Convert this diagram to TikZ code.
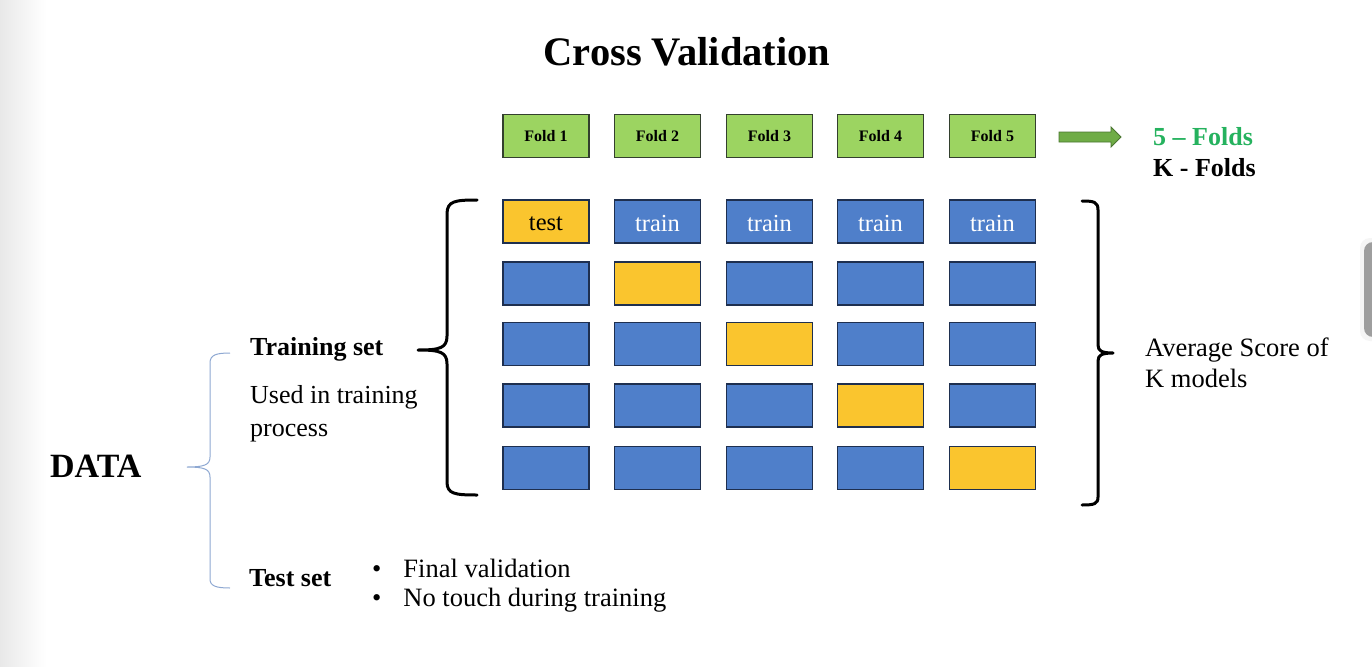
\documentclass[tikz,border=0pt]{standalone}
\usepackage{fontspec}
\setmainfont{Liberation Serif}
\definecolor{foldgreen}{HTML}{9CD461}
\definecolor{folddraw}{HTML}{33402E}
\definecolor{cellblue}{HTML}{4F7FCA}
\definecolor{cellgold}{HTML}{FAC52E}
\definecolor{celldraw}{HTML}{1E2F4F}
\definecolor{arrowgreen}{HTML}{6FAC46}
\definecolor{arrowdraw}{HTML}{4A7530}
\definecolor{kgreen}{HTML}{25B25E}
\definecolor{thinbrace}{HTML}{8EA8D2}
\tikzset{
  foldbox/.style={draw=folddraw, line width=1.2pt, fill=foldgreen,
    minimum width=86pt, minimum height=43pt, inner sep=0pt,
    font=\bfseries\fontsize{16}{18}\selectfont},
  cell/.style={draw=celldraw, line width=1.2pt, fill=cellblue,
    minimum width=86pt, minimum height=43pt, inner sep=0pt,
    font=\fontsize{24}{26}\selectfont},
  testcell/.style={cell, fill=cellgold},
  label/.style={inner sep=0pt, anchor=west, align=left},
  bigbrace/.style={line width=3pt, line cap=round, line join=round},
}
\begin{document}
\begin{tikzpicture}[x=1pt,y=-1pt]
\useasboundingbox (0,0) rectangle (1372,666);
\fill[white] (0,0) rectangle (1372,666);
% soft grey edge on the left
\shade[left color=black!9, right color=white] (0,0) rectangle (46,666);
% grey handle on the right edge
\fill[black!4, rounded corners=10pt] (1360,238) rectangle (1385,341);
\fill[black!38, rounded corners=9pt] (1364,242) rectangle (1385,337);

% title
\node[inner sep=0pt, font=\bfseries\fontsize{40.5}{40}\selectfont] (title) at (687,52) {Cross Validation};

% fold headers
\foreach \i/\x in {1/546,2/657.5,3/769.5,4/880.5,5/992.5}
  \node[foldbox] (f\i) at (\x,136) {Fold \i};

% fold arrow and labels
\coordinate (arrtail) at (1059,137);
\node[label, text=kgreen, font=\bfseries\fontsize{26}{26}\selectfont] (five) at (1153,137) {5 -- Folds};
\node[label, font=\bfseries\fontsize{26}{26}\selectfont] (kf) at (1153,168) {K - Folds};
\draw[draw=arrowdraw, fill=arrowgreen, line width=0.8pt, line join=miter]
  ([yshift=5pt]arrtail) -- ++(52,0) -- ++(0,-5) -- ++(10,10) -- ++(-10,10)
  -- ++(0,-5) -- ++(-52,0) -- cycle;

% cross-validation grid
\foreach \r/\y in {1/221.5,2/283.5,3/344,4/405.5,5/468}
  \foreach \c/\x in {1/546,2/657.5,3/769.5,4/880.5,5/992.5}
  {
    \ifnum\r=\c
      \node[testcell] (c\r\c) at (\x,\y) {};
    \else
      \node[cell] (c\r\c) at (\x,\y) {};
    \fi
  }
\node[inner sep=0pt, font=\fontsize{24.5}{26}\selectfont] at ([yshift=-2pt]c11) {test};
\foreach \c in {2,3,4,5}
  \node[inner sep=0pt, text=white, font=\fontsize{24.5}{26}\selectfont] at ([yshift=-2pt]c1\c) {train};

% braces around the grid
\draw[bigbrace] (477,200) .. controls (455,200) and (447,201) .. (447,214)
  -- (447,336) .. controls (447,348) and (440,350) .. (418,350)
  .. controls (440,350) and (447,352) .. (447,364)
  -- (447,482) .. controls (447,494) and (455,495) .. (477,495);
\draw[bigbrace] (1082,201) .. controls (1094,201) and (1098,202) .. (1098,210)
  -- (1098,345) .. controls (1098,351) and (1102,353) .. (1113,353)
  .. controls (1102,353) and (1098,355) .. (1098,361)
  -- (1098,497) .. controls (1098,504) and (1094,505) .. (1082,505);

% data split
\draw[thinbrace, line width=1pt] (230,353) .. controls (216,353) and (210,355) .. (210,363)
  -- (210,457) .. controls (210,465) and (204,467) .. (187,467)
  .. controls (204,467) and (210,469) .. (210,477)
  -- (210,579) .. controls (210,586) and (216,588) .. (230,588);
\node[label, font=\bfseries\fontsize{34}{34}\selectfont] (data) at (50,466) {DATA};
\node[label, font=\bfseries\fontsize{26}{26}\selectfont] (train) at (250,349) {Training set};
\node[label, font=\fontsize{26}{33}\selectfont] (used) at (250,414) {Used in training\\process};
\node[label, font=\bfseries\fontsize{26}{26}\selectfont] (test) at (249,578) {Test set};
\node[label, font=\fontsize{26.5}{32}\selectfont] (b1) at (372,568) {\textbullet\hspace{22pt}Final validation};
\node[label, font=\fontsize{26.5}{32}\selectfont] (b2) at (372,600) {\textbullet\hspace{22pt}No touch during training};

% result
\node[label, font=\fontsize{26.5}{31}\selectfont] (avg) at (1145,363) {Average Score of\\K models};
\end{tikzpicture}
\end{document}
